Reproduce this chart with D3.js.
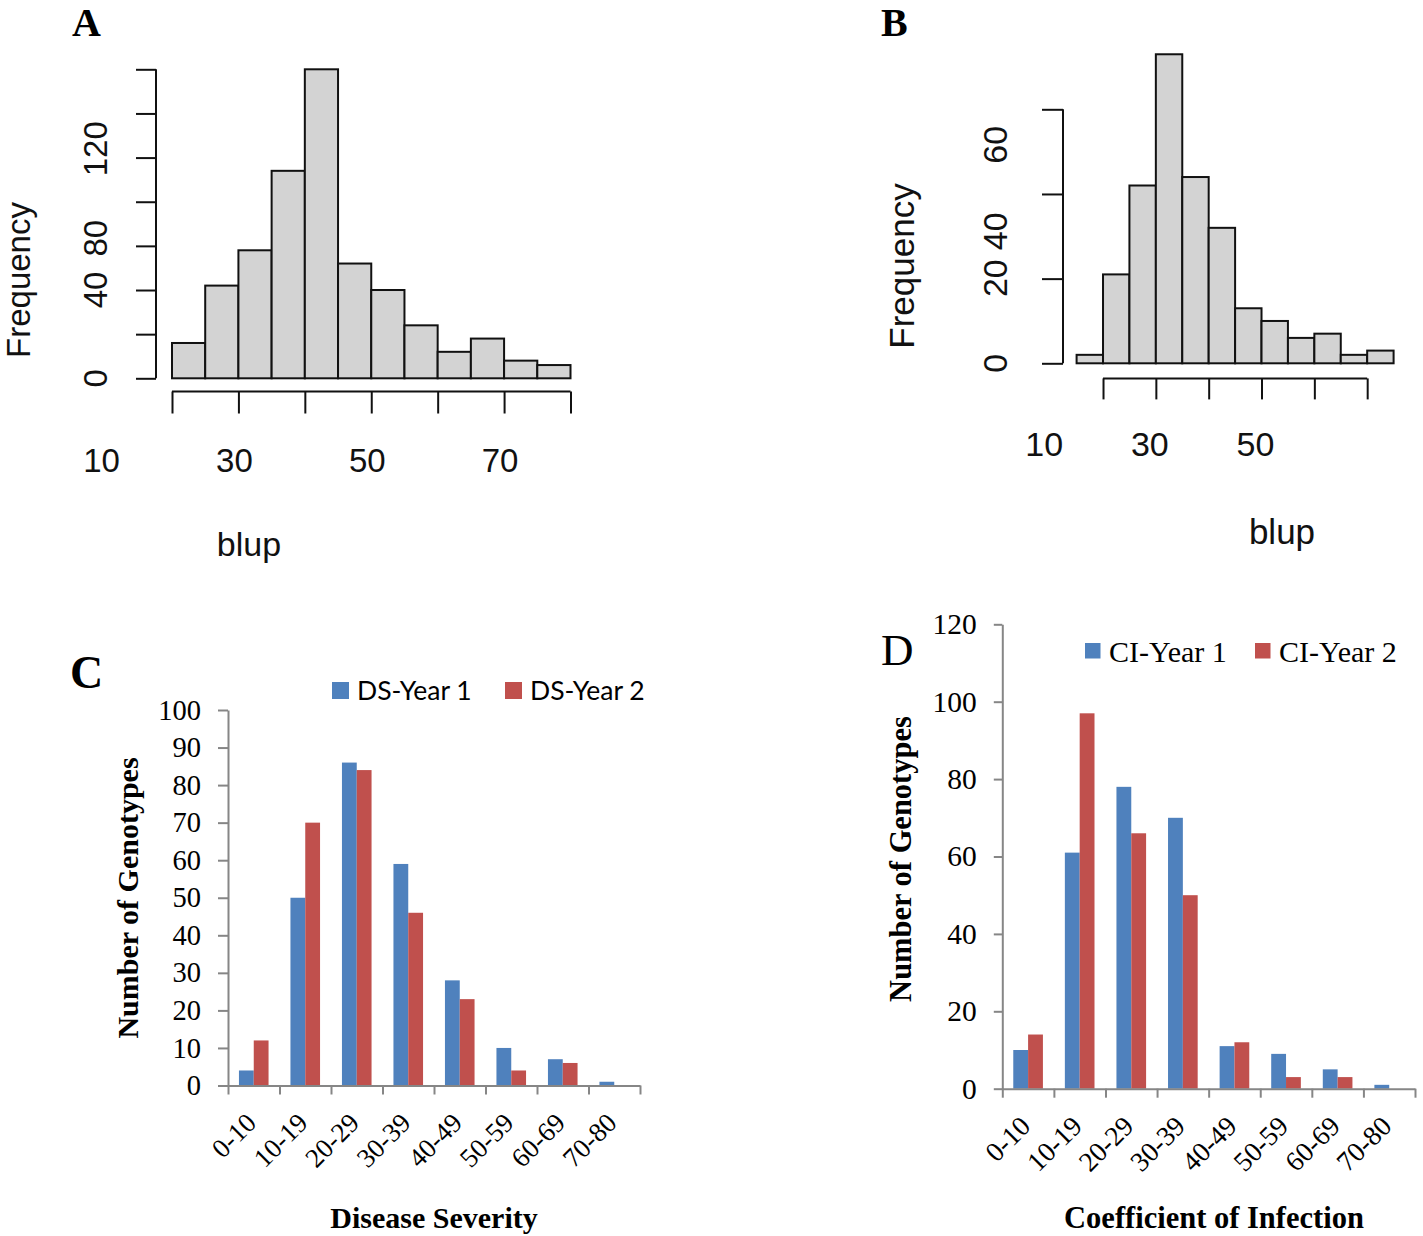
<!DOCTYPE html>
<html>
<head>
<meta charset="utf-8">
<script src="https://cdn.jsdelivr.net/npm/d3@7"></script>
<style>
  html, body { margin: 0; padding: 0; background: #fff; }
  svg { display: block; }
</style>
</head>
<body>
<svg id="chart" width="1423" height="1236"></svg>
<script>
// ---------------- DATA ----------------
// Panel A: histogram of blup (bins of 5 from 20 to 80)
const histABinStart = 20;
const histABinWidth = 5;
const histACounts = [16, 42, 58, 94, 140, 52, 40, 24, 12, 18, 8, 6];
const histAYTicks = [0, 20, 40, 60, 80, 100, 120, 140];
const histAYLabels = ["0", "40", "80", "120"];
const histAXTicks = [20, 30, 40, 50, 60, 70, 80];
const histAXLabels = [10, 30, 50, 70];

// Panel B: histogram of blup (bins of 5 from 15 to 75)
const histBBinStart = 15;
const histBBinWidth = 5;
const histBCounts = [2, 21, 42, 73, 44, 32, 13, 10, 6, 7, 2, 3];
const histBYTicks = [0, 20, 40, 60];
const histBYLabels = ["0", "20", "40", "60"];
const histBXTicks = [20, 30, 40, 50, 60, 70];
const histBXLabels = [10, 30, 50];

// Panels C & D: grouped bars
const classes = ["0-10", "10-19", "20-29", "30-39", "40-49", "50-59", "60-69", "70-80"];
const dsYear1 = [4, 50, 86, 59, 28, 10, 7, 1];
const dsYear2 = [12, 70, 84, 46, 23, 4, 6, 0];
const ciYear1 = [10, 61, 78, 70, 11, 9, 5, 1];
const ciYear2 = [14, 97, 66, 50, 12, 3, 3, 0];
const seriesNamesC = ["DS-Year 1", "DS-Year 2"];
const seriesNamesD = ["CI-Year 1", "CI-Year 2"];
const yTicksC = d3.range(0, 101, 10);
const yTicksD = d3.range(0, 121, 20);

// ---------------- STYLE ----------------
const BLUE = "#4F81BD", RED = "#C0504D", AXISGRAY = "#868686";
const SANS = "'Liberation Sans', Arial, sans-serif";
const SERIF = "'Liberation Serif', 'Times New Roman', serif";
const LEG_C = "Lato, 'Open Sans', sans-serif";

const svg = d3.select("#chart");
svg.append("rect").attr("width", 1423).attr("height", 1236).attr("fill", "#fff");

// ---------------- R-style histogram ----------------
function rHist(cfg) {
  const g = svg.append("g");
  const n = cfg.counts.length;
  const x = d3.scaleLinear()
    .domain([cfg.binStart, cfg.binStart + n * cfg.binWidth])
    .range(cfg.xRange);
  const y = d3.scaleLinear().domain(cfg.yDomain).range(cfg.yRange);

  const bins = cfg.counts.map((c, i) => ({
    x0: cfg.binStart + i * cfg.binWidth,
    x1: cfg.binStart + (i + 1) * cfg.binWidth,
    c
  }));
  g.selectAll("rect.bar").data(bins).join("rect")
    .attr("class", "bar")
    .attr("x", d => x(d.x0))
    .attr("width", d => x(d.x1) - x(d.x0))
    .attr("y", d => y(d.c))
    .attr("height", d => y(0) - y(d.c))
    .attr("fill", "#D3D3D3")
    .attr("stroke", "#111")
    .attr("stroke-width", 2);

  // y axis
  const yAxis = d3.axisLeft(y).tickValues(cfg.yTicks).tickSize(cfg.yTickLen)
    .tickSizeOuter(0).tickFormat("");
  const ga = g.append("g").attr("transform", `translate(${cfg.yAxisX},0)`).call(yAxis);
  ga.select(".domain").attr("stroke", "#111").attr("stroke-width", 2)
    .attr("d", `M0,${y(cfg.yTicks[cfg.yTicks.length - 1])}V${y(cfg.yTicks[0])}`);
  ga.selectAll(".tick line").attr("stroke", "#111").attr("stroke-width", 2);

  // y labels (rotated, R style)
  g.selectAll("text.ylab").data(cfg.yLabels).join("text")
    .attr("class", "ylab")
    .attr("transform", (d, i) => `translate(${cfg.yLabelX},${y(cfg.yLabelPos[i])}) rotate(-90)`)
    .attr("text-anchor", "middle")
    .attr("font-family", SANS).attr("font-size", cfg.fontSize).attr("fill", "#111")
    .text(d => d);

  // x axis
  const xAxis = d3.axisBottom(x).tickValues(cfg.xTicks).tickSize(cfg.xTickLen)
    .tickSizeOuter(0).tickFormat("");
  const gx = g.append("g").attr("transform", `translate(0,${cfg.xAxisY})`).call(xAxis);
  gx.select(".domain").attr("stroke", "#111").attr("stroke-width", 2)
    .attr("d", `M${x(cfg.xTicks[0])},0H${x(cfg.xTicks[cfg.xTicks.length - 1])}`);
  gx.selectAll(".tick line").attr("stroke", "#111").attr("stroke-width", 2);

  g.selectAll("text.xlab").data(cfg.xLabels).join("text")
    .attr("class", "xlab")
    .attr("x", d => x(d) + cfg.xLabelShift)
    .attr("y", cfg.xLabelY)
    .attr("text-anchor", "middle")
    .attr("font-family", SANS).attr("font-size", cfg.fontSize).attr("fill", "#111")
    .text(d => d);

  // titles
  g.append("text").attr("x", cfg.xTitle[0]).attr("y", cfg.xTitle[1])
    .attr("text-anchor", "middle").attr("font-family", SANS)
    .attr("font-size", cfg.fontSize + 1).attr("fill", "#111").text("blup");
  g.append("text")
    .attr("transform", `translate(${cfg.yTitle[0]},${cfg.yTitle[1]}) rotate(-90)`)
    .attr("text-anchor", "middle").attr("font-family", SANS)
    .attr("font-size", cfg.yTitleFont).attr("fill", "#111").text("Frequency");
  g.append("text").attr("x", cfg.letter[0]).attr("y", cfg.letter[1])
    .attr("font-family", SERIF).attr("font-weight", "bold")
    .attr("font-size", 40).attr("fill", "#000").text(cfg.letterText);
}

rHist({
  counts: histACounts, binStart: histABinStart, binWidth: histABinWidth,
  xRange: [172, 570.5], yDomain: [0, 140], yRange: [378.3, 69.3],
  yTicks: histAYTicks, yTickLen: 20, yAxisX: 156,
  yLabels: histAYLabels, yLabelPos: [0, 40, 63.5, 104], yLabelX: 107,
  xTicks: histAXTicks, xTickLen: 22, xAxisY: 391.5,
  xLabels: histAXLabels, xLabelShift: -4, xLabelY: 471.5,
  fontSize: 33, yTitleFont: 33,
  xTitle: [249, 556], yTitle: [30, 280], letter: [72, 36], letterText: "A"
});

rHist({
  counts: histBCounts, binStart: histBBinStart, binWidth: histBBinWidth,
  xRange: [1076.6, 1393.6], yDomain: [0, 60], yRange: [363.3, 109.3],
  yTicks: histBYTicks, yTickLen: 21, yAxisX: 1063,
  yLabels: histBYLabels, yLabelPos: [0, 20.1, 31.2, 51.6], yLabelX: 1007,
  xTicks: histBXTicks, xTickLen: 21, xAxisY: 378.4,
  xLabels: histBXLabels, xLabelShift: -6, xLabelY: 456,
  fontSize: 34, yTitleFont: 35,
  xTitle: [1282, 544], yTitle: [914, 266], letter: [881, 36], letterText: "B"
});

// ---------------- Excel-style grouped bars ----------------
function excelBars(cfg) {
  const g = svg.append("g");
  const x0 = d3.scaleBand().domain(classes).range(cfg.xRange).paddingInner(0).paddingOuter(0);
  const x1 = d3.scaleBand().domain([0, 1]).range([0, x0.bandwidth()]).paddingInner(0).paddingOuter(0.74);
  const y = d3.scaleLinear().domain(cfg.yDomain).range(cfg.yRange);
  const colors = [BLUE, RED];

  const rows = classes.map((c, i) => ({ c, v: [cfg.s1[i], cfg.s2[i]] }));
  const grp = g.selectAll("g.cat").data(rows).join("g")
    .attr("class", "cat").attr("transform", d => `translate(${x0(d.c)},0)`);
  grp.selectAll("rect").data(d => d.v.map((v, k) => ({ v, k })).filter(e => e.v > 0)).join("rect")
    .attr("x", d => x1(d.k)).attr("width", x1.bandwidth())
    .attr("y", d => y(d.v)).attr("height", d => y(0) - y(d.v))
    .attr("fill", d => colors[d.k]);

  // y axis
  const yAxis = d3.axisLeft(y).tickValues(cfg.yTicks).tickSize(cfg.yTickLen)
    .tickSizeOuter(0).tickPadding(cfg.yTickPad);
  const ga = g.append("g").attr("transform", `translate(${cfg.xRange[0]},0)`).call(yAxis);
  ga.select(".domain").attr("stroke", AXISGRAY).attr("stroke-width", 2);
  ga.selectAll(".tick line").attr("stroke", AXISGRAY).attr("stroke-width", 2);
  ga.selectAll(".tick text").attr("font-family", SERIF).attr("font-size", cfg.yFont)
    .attr("fill", "#000");

  // x axis: ticks at category boundaries
  const xb = d3.scaleLinear().domain([0, classes.length]).range(cfg.xRange);
  const xAxis = d3.axisBottom(xb).tickValues(d3.range(0, classes.length + 1))
    .tickSize(cfg.xTickLen).tickSizeOuter(0).tickFormat("");
  const gx = g.append("g").attr("transform", `translate(0,${y(0)})`).call(xAxis);
  gx.select(".domain").attr("stroke", AXISGRAY).attr("stroke-width", 2);
  gx.selectAll(".tick line").attr("stroke", AXISGRAY).attr("stroke-width", 2);

  g.selectAll("text.xlab").data(classes).join("text")
    .attr("class", "xlab")
    .attr("transform", d => `translate(${x0(d) + x0.bandwidth() / 2 + 4},${y(0) + 39}) rotate(-45)`)
    .attr("text-anchor", "end")
    .attr("font-family", SERIF).attr("font-size", cfg.xFont).attr("fill", "#000")
    .text(d => d);

  // legend
  cfg.legend.forEach((L, k) => {
    g.append("rect").attr("x", L.sx).attr("y", L.sy).attr("width", L.ss).attr("height", L.ss)
      .attr("fill", colors[k]);
    g.append("text").attr("x", L.tx).attr("y", L.ty)
      .attr("font-family", cfg.legendFamily).attr("font-size", cfg.legendFont)
      .attr("fill", "#000").text(cfg.names[k]);
  });

  // titles
  g.append("text").attr("x", cfg.xTitle[0]).attr("y", cfg.xTitle[1])
    .attr("text-anchor", "middle").attr("font-family", SERIF).attr("font-weight", "bold")
    .attr("font-size", cfg.titleFont).attr("fill", "#000").text(cfg.xTitleText);
  g.append("text")
    .attr("transform", `translate(${cfg.yTitle[0]},${cfg.yTitle[1]}) rotate(-90)`)
    .attr("text-anchor", "middle").attr("font-family", SERIF).attr("font-weight", "bold")
    .attr("font-size", cfg.titleFont).attr("fill", "#000").text("Number of Genotypes");
  g.append("text").attr("x", cfg.letter[0]).attr("y", cfg.letter[1])
    .attr("font-family", SERIF).attr("font-weight", cfg.letterWeight)
    .attr("font-size", cfg.letterFont).attr("fill", "#000").text(cfg.letterText);
}

excelBars({
  s1: dsYear1, s2: dsYear2, names: seriesNamesC,
  xRange: [228, 640], yDomain: [0, 100], yRange: [1085.5, 710],
  yTicks: yTicksC, yTickLen: 10, yTickPad: 17, yFont: 28.5, xTickLen: 9, xFont: 27,
  legendFamily: LEG_C, legendFont: 26.5,
  legend: [
    { sx: 332, sy: 682, ss: 17, tx: 357, ty: 700 },
    { sx: 505, sy: 682, ss: 17, tx: 530, ty: 700 }
  ],
  titleFont: 30, xTitle: [434, 1228], xTitleText: "Disease Severity",
  yTitle: [137.5, 898],
  letter: [70, 688], letterText: "C", letterWeight: "bold", letterFont: 46
});

excelBars({
  s1: ciYear1, s2: ciYear2, names: seriesNamesD,
  xRange: [1002.3, 1415], yDomain: [0, 120], yRange: [1088.7, 624.3],
  yTicks: yTicksD, yTickLen: 8.5, yTickPad: 17, yFont: 29.5, xTickLen: 9, xFont: 27.5,
  legendFamily: SERIF, legendFont: 30,
  legend: [
    { sx: 1085, sy: 643, ss: 15.5, tx: 1109, ty: 661.5 },
    { sx: 1255, sy: 643, ss: 15.5, tx: 1279, ty: 661.5 }
  ],
  titleFont: 30.5, xTitle: [1214, 1228], xTitleText: "Coefficient of Infection",
  yTitle: [911, 859],
  letter: [881, 665], letterText: "D", letterWeight: "normal", letterFont: 45
});
</script>
</body>
</html>
